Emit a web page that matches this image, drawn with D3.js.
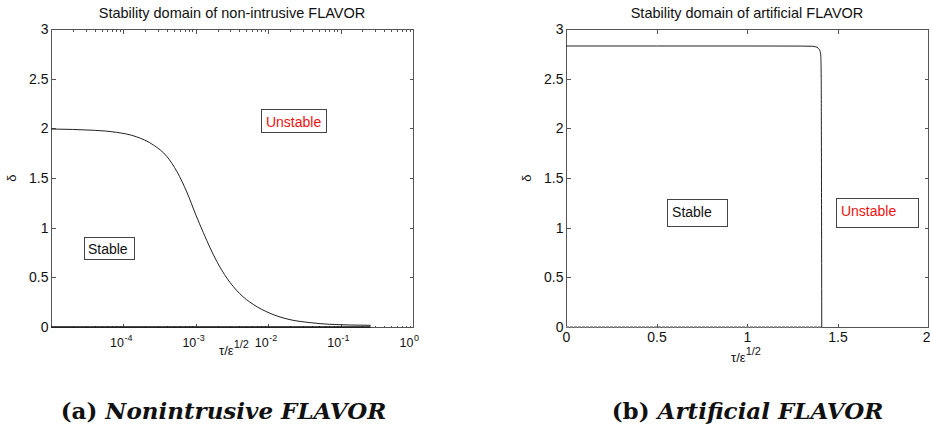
<!DOCTYPE html>
<html>
<head>
<meta charset="utf-8">
<script src="https://cdn.jsdelivr.net/npm/d3@7"></script>
<style>
  body { margin: 0; background: #fff; }
  svg { display: block; }
  text { font-family: "Liberation Sans", Arial, sans-serif; fill: #111; }
</style>
</head>
<body>
<svg id="chart" width="930" height="431"></svg>
<script>
// (a) non-intrusive FLAVOR: upper stability limit of delta against tau/eps^(1/2), log axis
const nonIntrusiveTau = [1e-5, 4e-5, 8e-5, 1.5e-4, 2.6e-4, 4e-4, 5.5e-4, 7.5e-4, 1e-3, 1.27e-3,
                         1.95e-3, 2.7e-3, 4e-3, 6.2e-3, 1.06e-2, 2e-2, 3.8e-2, 7.1e-2, 0.26];
const nonIntrusiveDelta = [1.993, 1.98, 1.96, 1.916, 1.832, 1.715, 1.563, 1.36, 1.13, 0.95,
                           0.66, 0.49, 0.339, 0.228, 0.138, 0.074, 0.044, 0.027, 0.017];
// lower limit of the same domain
const nonIntrusiveFloorTau = [1e-5, 0.26];
const nonIntrusiveFloorDelta = [0, 0];

// (b) artificial FLAVOR: upper stability limit, linear axis
const artificialTau = [0, 0.5, 1, 1.3, 1.36, 1.38, 1.394, 1.403, 1.408, 1.41, 1.412, 1.413];
const artificialDelta = [2.829, 2.829, 2.829, 2.828, 2.826, 2.82, 2.806, 2.78, 2.72, 2.5, 1.0, 0];
const artificialFloorTau = [0, 1.413];
const artificialFloorDelta = [0, 0];

// axis ticks
const deltaTicks = [0, 0.5, 1, 1.5, 2, 2.5, 3];
const logTickExponents = [-4, -3, -2, -1, 0];
const linearTauTicks = [0, 0.5, 1, 1.5, 2];

const panelTitles = ["Stability domain of non-intrusive FLAVOR", "Stability domain of artificial FLAVOR"];
const captionTags = ["(a)", "(b)"];
const captionNames = ["Nonintrusive FLAVOR", "Artificial FLAVOR"];

// region labels: [text, tau, delta] (tau/delta = left end of the text baseline)
const regionLabelsA = [["Stable", 3.24e-5, 0.735], ["Unstable", 9.3e-3, 2.013]];
const regionLabelsB = [["Stable", 0.586, 1.107], ["Unstable", 1.519, 1.117]];

const svg = d3.select("#chart");
const yTop = 29, yBottom = 327;
const axisColor = "#555";

const y = d3.scaleLinear().domain([0, 3]).range([yBottom, yTop]);
const xA = d3.scaleLog().domain([1e-5, 1]).range([51, 413]);
const xB = d3.scaleLinear().domain([0, 2]).range([566, 928]);

function zip(a, b) { return a.map((v, i) => [v, b[i]]); }

function frame(x) {
  const [x0, x1] = x.range();
  svg.append("rect")
    .attr("x", x0 + 0.5).attr("y", yTop + 0.5)
    .attr("width", x1 - x0).attr("height", yBottom - yTop)
    .attr("fill", "none").attr("stroke", axisColor).attr("stroke-width", 1)
    .attr("shape-rendering", "crispEdges");
}

function tickAxis(axis, transform, len) {
  const g = svg.append("g").attr("transform", transform)
    .call(axis.tickSizeInner(-len).tickSizeOuter(0).tickFormat(""));
  g.select(".domain").remove();
  g.selectAll("line").attr("stroke", axisColor).attr("shape-rendering", "crispEdges");
  return g;
}

function yAxes(x) {
  const [x0, x1] = x.range();
  const g = svg.append("g").attr("transform", `translate(${x0 + 0.5},0)`)
    .call(d3.axisLeft(y).tickValues(deltaTicks).tickSizeInner(-4).tickSizeOuter(0)
      .tickPadding(3).tickFormat(d => String(d)));
  g.select(".domain").remove();
  g.selectAll("line").attr("stroke", axisColor).attr("shape-rendering", "crispEdges");
  g.selectAll("text").attr("font-size", 14).attr("font-family", "Liberation Sans, Arial, sans-serif").attr("fill", "#111");
  tickAxis(d3.axisRight(y).tickValues(deltaTicks), `translate(${x1 + 0.5},0)`, 4);
}

function yLabel(xPos) {
  svg.append("text")
    .attr("transform", `translate(${xPos},178) rotate(-90)`)
    .attr("text-anchor", "middle").attr("font-size", 13)
    .text("δ");
}

function xLabel(cx, base) {
  const t = svg.append("text").attr("x", cx).attr("y", base).attr("text-anchor", "middle");
  t.append("tspan").attr("font-size", 13).text("τ/ε");
  t.append("tspan").attr("font-size", 11).attr("dy", -7).text("1/2");
}

function title(x, text) {
  const [x0, x1] = x.range();
  svg.append("text").attr("x", (x0 + x1) / 2).attr("y", 18)
    .attr("text-anchor", "middle").attr("font-size", 14.5).text(text);
}

function regionLabels(x, labels, colors, pads) {
  labels.forEach(([txt, tx, ty], i) => {
    const g = svg.append("g");
    const box = g.append("rect");
    const t = g.append("text").attr("x", x(tx)).attr("y", y(ty))
      .attr("font-size", 14).style("fill", colors[i]).text(txt);
    const w = t.node().getComputedTextLength();
    const [pl, pr, pt, pb] = pads[i];
    box.attr("x", Math.round(x(tx) - pl) + 0.5).attr("y", Math.round(y(ty) - pt) + 0.5)
      .attr("width", Math.round(w + pl + pr)).attr("height", Math.round(pt + pb))
      .attr("fill", "#fff").attr("stroke", "#444").attr("stroke-width", 1);
  });
}

function caption(cx, tag, name) {
  const t = svg.append("text").attr("x", cx).attr("y", 419)
    .attr("text-anchor", "middle")
    .attr("font-size", 23).style("font-family", "DejaVu Serif, serif").attr("font-weight", "bold");
  t.append("tspan").text(tag + " ");
  t.append("tspan").attr("font-style", "italic").text(name);
}

const line = (x) => d3.line().x(d => x(d[0])).y(d => y(d[1]));

// ---------- panel (a) ----------
frame(xA);
const minorA = [];
for (let e = -5; e < 0; e++) for (let m = 2; m <= 9; m++) minorA.push(m * Math.pow(10, e));
const majorA = logTickExponents.map(e => Math.pow(10, e));
tickAxis(d3.axisBottom(xA).tickValues(majorA), `translate(0,${yBottom + 0.5})`, 4);
tickAxis(d3.axisBottom(xA).tickValues(minorA), `translate(0,${yBottom + 0.5})`, 2);
tickAxis(d3.axisTop(xA).tickValues(majorA), `translate(0,${yTop + 0.5})`, 4);
tickAxis(d3.axisTop(xA).tickValues(minorA), `translate(0,${yTop + 0.5})`, 2);
yAxes(xA);

// decade labels: mantissa "10" ends on the tick, exponent raised after it
logTickExponents.forEach(e => {
  const px = xA(Math.pow(10, e));
  svg.append("text").attr("x", px + 0.5).attr("y", 346.5).attr("text-anchor", "end")
    .attr("font-size", 12.5).text("10");
  svg.append("text").attr("x", px + 1).attr("y", 340.5)
    .attr("font-size", 9).text(e === 0 ? "0" : "-" + Math.abs(e));
});

svg.append("path").datum(zip(nonIntrusiveFloorTau, nonIntrusiveFloorDelta))
  .attr("d", line(xA)).attr("fill", "none").attr("stroke", "#111").attr("stroke-width", 1.6);
svg.append("path").datum(zip(nonIntrusiveTau, nonIntrusiveDelta))
  .attr("d", line(xA).curve(d3.curveMonotoneX))
  .attr("fill", "none").attr("stroke", "#222").attr("stroke-width", 1);

title(xA, panelTitles[0]);
yLabel(16);
xLabel(234, 355);
regionLabels(xA, regionLabelsA, ["#111", "#ee1111"], [[4, 6, 17, 5], [4.5, 5.5, 18, 5]]);

// ---------- panel (b) ----------
frame(xB);
tickAxis(d3.axisTop(xB).tickValues(linearTauTicks), `translate(0,${yTop + 0.5})`, 4);
const gb = svg.append("g").attr("transform", `translate(0,${yBottom + 0.5})`)
  .call(d3.axisBottom(xB).tickValues(linearTauTicks).tickSizeInner(-4).tickSizeOuter(0)
    .tickPadding(5).tickFormat(d => String(d)));
gb.select(".domain").remove();
gb.selectAll("line").attr("stroke", axisColor).attr("shape-rendering", "crispEdges");
gb.selectAll("text").attr("font-size", 14).attr("font-family", "Liberation Sans, Arial, sans-serif").attr("fill", "#111");
// the last label sits at the page edge; keep it inside the page
gb.selectAll("text").filter(d => d === linearTauTicks[linearTauTicks.length - 1])
  .attr("text-anchor", "end").attr("x", 2);
yAxes(xB);

svg.append("path").datum(zip(artificialFloorTau, artificialFloorDelta))
  .attr("d", line(xB)).attr("fill", "none").attr("stroke", "#888")
  .attr("stroke-width", 1.4).attr("stroke-dasharray", "3,1");
svg.append("path").datum(zip(artificialTau, artificialDelta))
  .attr("d", line(xB).curve(d3.curveMonotoneX))
  .attr("fill", "none").attr("stroke", "#222").attr("stroke-width", 1);

title(xB, panelTitles[1]);
yLabel(531);
xLabel(746, 362);
regionLabels(xB, regionLabelsB, ["#111", "#ee1111"], [[5, 15.5, 17.7, 9], [5, 21.5, 18, 11]]);

// ---------- captions ----------
caption(223.5, captionTags[0], captionNames[0]);
caption(747.5, captionTags[1], captionNames[1]);
</script>
</body>
</html>
